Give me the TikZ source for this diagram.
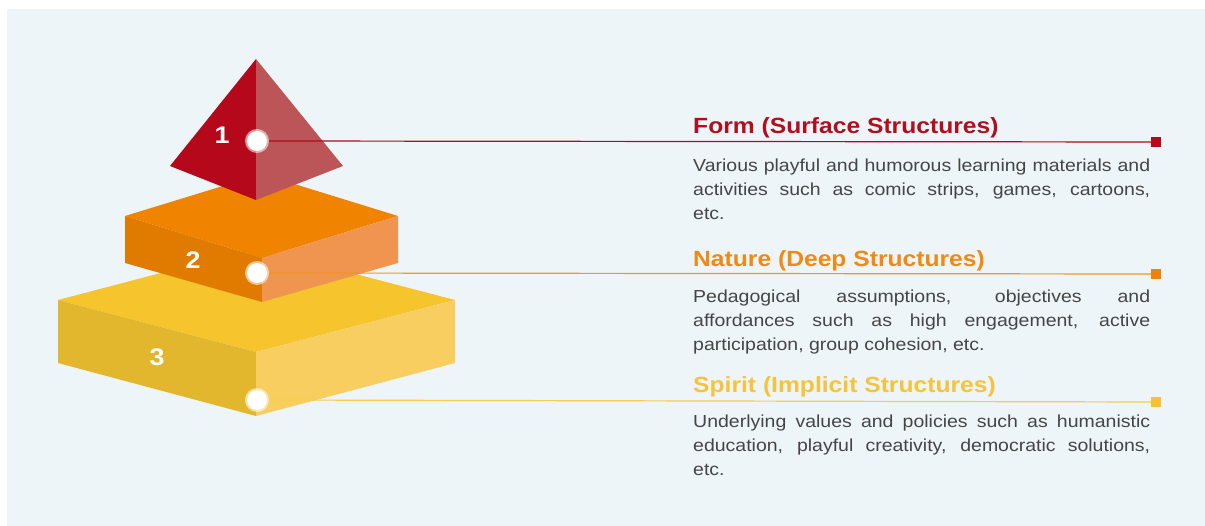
\documentclass[tikz,border=0pt]{standalone}
\usepackage{fontspec}
\setmainfont[FakeStretch=1.12]{Liberation Sans}
\usetikzlibrary{positioning}

\definecolor{panelbg}{HTML}{EEF5F9}
\definecolor{redDark}{HTML}{B5081A}
\definecolor{redLight}{HTML}{BC5558}
\definecolor{orangeTop}{HTML}{F08300}
\definecolor{orangeLeft}{HTML}{E07B00}
\definecolor{orangeRight}{HTML}{F09550}
\definecolor{yellowTop}{HTML}{F6C42C}
\definecolor{yellowLeft}{HTML}{E2B72E}
\definecolor{yellowRight}{HTML}{F8CE60}
\definecolor{formCol}{HTML}{B0101E}
\definecolor{natureCol}{HTML}{F08A10}
\definecolor{spiritCol}{HTML}{F5C43C}
\definecolor{bodyText}{HTML}{454545}

\tikzset{
	dot/.style={circle, draw=white, draw opacity=0.55, line width=4pt, fill=white, minimum size=20pt, inner sep=0pt},
	levelnum/.style={text=white, font=\fontsize{24}{24}\selectfont\bfseries, inner sep=0pt},
	marker/.style={rectangle, minimum size=10pt, inner sep=0pt},
	title/.style={anchor=base west, inner sep=0pt, font=\fontsize{22}{22}\selectfont\bfseries},
	body/.style={anchor=north west, inner sep=0pt, text width=457pt, align=justify, text=bodyText, font=\fontsize{17.4}{24}\selectfont},
	link/.style={line width=1.2pt}
}

\begin{document}
\begin{tikzpicture}[x=1pt, y=-1pt, line join=miter]
	\useasboundingbox (0,0) rectangle (1205,526);
	\fill[panelbg] (7,9) rectangle (1205,526);

	% Stufe 3
	\fill[yellowTop] (58,300) -- (256,248) -- (455,300) -- (256,352) -- cycle;
	\fill[yellowLeft] (58,300) -- (256,352) -- (256,416) -- (58,363) -- cycle;
	\fill[yellowRight] (256,352) -- (455,300) -- (455,363) -- (256,416) -- cycle;

	% Stufe 2
	\fill[orangeTop] (125,216) -- (262,174) -- (398,216) -- (262,258) -- cycle;
	\fill[orangeLeft] (125,216) -- (262,258) -- (262,302) -- (125,263) -- cycle;
	\fill[orangeRight] (262,258) -- (398,216) -- (398,263) -- (262,302) -- cycle;

	% Spitze
	\fill[redDark] (256,59) -- (170,166) -- (256,200) -- cycle;
	\fill[redLight] (256,59) -- (343,166) -- (256,200) -- cycle;

	\node[levelnum] (num1) at (222,135) {1};
	\node[levelnum] (num2) at (193,260) {2};
	\node[levelnum] (num3) at (157,357) {3};

	% Verbindungslinien
	\node[marker, fill=redDark] (end1) at (1156,142) {};
	\node[marker, fill=orangeTop] (end2) at (1156,274) {};
	\node[marker, fill=yellowTop] (end3) at (1156,402) {};
	\node[dot] (dot1) at (257,141) {};
	\node[dot] (dot2) at (257,273) {};
	\node[dot] (dot3) at (257,400) {};
	\draw[link, redDark] (dot1.east) -- (end1.west);
	\draw[link, orangeTop!85!white] (dot2.east) -- (end2.west);
	\draw[link, yellowTop!85!white] (dot3.east) -- (end3.west);

	% Texte
	\node[title, text=formCol] (form) at (693,134) {Form (Surface Structures)};
	\node[body] (formtxt) at (693,158.5) {Various playful and humorous learning materials and\linebreak activities such as comic strips, games, cartoons,\linebreak etc.};

	\node[title, text=natureCol] (nature) at (693,267) {Nature (Deep Structures)};
	\node[body] (naturetxt) at (693,289.5) {Pedagogical assumptions, objectives and\linebreak affordances such as high engagement, active\linebreak participation, group cohesion, etc.};

	\node[title, text=spiritCol] (spirit) at (693,393) {Spirit (Implicit Structures)};
	\node[body] (spirittxt) at (693,414.5) {Underlying values and policies such as humanistic\linebreak education, playful creativity, democratic solutions,\linebreak etc.};
\end{tikzpicture}
\end{document}
